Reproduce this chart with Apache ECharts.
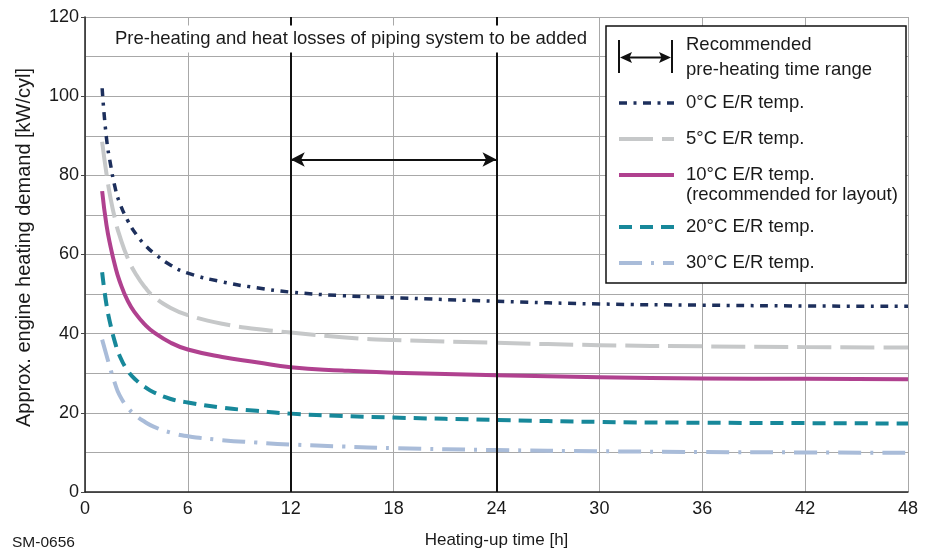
<!DOCTYPE html>
<html><head><meta charset="utf-8">
<script src="https://cdn.jsdelivr.net/npm/echarts@6/dist/echarts.min.js"></script>
<style>html,body{margin:0;padding:0;background:#fff}#chart{width:925px;height:554px}</style>
</head><body><div id="chart"></div>
<script>
// ---- data ----
const hours = [1, 1.25, 1.5, 1.75, 2, 2.5, 3, 3.5, 4, 5, 6, 8, 10, 12, 15, 18, 24, 30, 36, 42, 48];
const demand0C  = [102, 89.5, 82.5, 77, 73.3, 68.5, 65, 62.4, 60.4, 57.3, 55.3, 53.1, 51.6, 50.5, 49.6, 49.1, 48.2, 47.5, 47.2, 47.0, 46.9];
const demand5C  = [88.5, 80.5, 74, 69, 65, 59, 54.8, 51.7, 49.4, 46.5, 44.7, 42.5, 41.2, 40.3, 39.1, 38.4, 37.7, 37.1, 36.8, 36.6, 36.5];
const demand10C = [76, 67.5, 61.8, 57.2, 53.5, 48.2, 44.8, 42.3, 40.4, 37.7, 36, 34.1, 32.8, 31.5, 30.7, 30.15, 29.5, 29.0, 28.7, 28.6, 28.5];
const demand20C = [55.5, 47.4, 42, 37.8, 34.6, 30.6, 28.2, 26.5, 25.2, 23.5, 22.6, 21.3, 20.5, 19.8, 19.2, 18.8, 18.2, 17.7, 17.5, 17.4, 17.3];
const demand30C = [38.5, 34.6, 30.8, 27.4, 24.6, 21.3, 19.2, 17.7, 16.5, 15, 14.1, 13.1, 12.5, 12, 11.5, 11.1, 10.6, 10.3, 10.1, 10.0, 9.9];
const seriesNames = ['0°C E/R temp.', '5°C E/R temp.', '10°C E/R temp.', '20°C E/R temp.', '30°C E/R temp.'];
const rangeStart = 12, rangeEnd = 24, rangeArrowLevel = 84;
const xMin = 0, xMax = 48, xStep = 6;
const yMin = 0, yMax = 120, yStep = 20;

// ---- fonts ----
function hasFont(name) {
  const c = document.createElement('canvas').getContext('2d');
  const s = 'SM-0656 120 48 mmwwii';
  c.font = '20px monospace'; const a = c.measureText(s).width;
  c.font = '20px "' + name + '", monospace'; const b = c.measureText(s).width;
  return Math.abs(a - b) > 0.5;
}
const narrow = hasFont('Liberation Sans Narrow');
const tickFont = narrow ? { fontFamily: '"Liberation Sans Narrow"', fontSize: 20 } : { fontFamily: '"Liberation Sans", Arial', fontSize: 18 };
const FONT = '"Liberation Sans", Arial, sans-serif';
const INK = '#1a1a1a';

const styles = [
  { color: '#1d2f5c', width: 3.5, type: [8, 6.5, 3, 6.5] },
  { color: '#c6c8c9', width: 4, type: [34, 9] },
  { color: '#b0418f', width: 4, type: 'solid' },
  { color: '#17889a', width: 4, type: [13, 8] },
  { color: '#a9bcd9', width: 4, type: [23, 9, 3, 9] }
];
const values = [demand0C, demand5C, demand10C, demand20C, demand30C];

const series = values.map((vals, i) => ({
  name: seriesNames[i],
  type: 'line',
  data: hours.map((h, k) => [h, vals[k]]),
  showSymbol: false,
  symbol: 'none',
  smooth: 0.5,
  color: styles[i].color,
  lineStyle: { color: styles[i].color, width: styles[i].width, type: styles[i].type, cap: 'butt', join: 'round' },
  silent: true,
  animation: false,
  z: 3
}));

series[2].markLine = {
  silent: true,
  animation: false,
  symbol: 'none',
  label: { show: false },
  lineStyle: { color: '#111', width: 2, type: 'solid' },
  emphasis: { disabled: true },
  data: [
    { xAxis: rangeStart },
    { xAxis: rangeEnd },
    [
      { coord: [rangeStart, rangeArrowLevel], symbol: 'arrow', symbolSize: [11, 14] },
      { coord: [rangeEnd, rangeArrowLevel], symbol: 'arrow', symbolSize: [11, 14] }
    ]
  ]
};

const legendCommon = {
  orient: 'vertical',
  left: 617,
  itemWidth: 55,
  itemHeight: 14,
  itemGap: 16,
  padding: 0,
  selectedMode: false,
  z: 20,
  textStyle: { fontFamily: FONT, fontSize: 18.5, lineHeight: 20, color: INK, padding: [0, 0, 0, 7] },
  lineStyle: { width: 'inherit' },
  itemStyle: { color: 'rgba(0,0,0,0)', borderWidth: 0 }
};

const option = {
  animation: false,
  backgroundColor: '#fff',
  textStyle: { fontFamily: FONT },
  grid: { left: 85, right: 17, top: 17, bottom: 62, containLabel: false },
  xAxis: {
    type: 'value', min: xMin, max: xMax, interval: xStep,
    name: 'Heating-up time [h]', nameLocation: 'middle', nameGap: 40,
    nameTextStyle: { fontFamily: FONT, fontSize: 17, color: INK },
    axisLine: { show: true, onZero: false, lineStyle: { color: '#222', width: 1.5 } },
    axisTick: { show: false },
    axisLabel: { margin: 8, color: INK, fontFamily: tickFont.fontFamily, fontSize: tickFont.fontSize },
    splitLine: { show: true, lineStyle: { color: '#a8a8a8', width: 1 } }
  },
  yAxis: {
    type: 'value', min: yMin, max: yMax, interval: yStep,
    name: 'Approx. engine heating demand [kW/cyl]', nameLocation: 'middle', nameGap: 51, nameRotate: 90,
    nameTextStyle: { fontFamily: FONT, fontSize: 20, color: INK, padding: [0, 0, 0, 14] },
    axisLine: { show: true, onZero: false, lineStyle: { color: '#222', width: 1.5 } },
    axisTick: { show: true, length: 4, lineStyle: { color: '#444', width: 1 } },
    axisLabel: { margin: 6, color: INK, fontFamily: tickFont.fontFamily, fontSize: tickFont.fontSize },
    splitLine: { show: true, lineStyle: { color: '#a8a8a8', width: 1 } },
    minorTick: { show: false, splitNumber: 2 },
    minorSplitLine: { show: true, lineStyle: { color: '#a8a8a8', width: 1 } }
  },
  legend: [
    Object.assign({}, legendCommon, { top: 93, data: seriesNames.slice(0, 3) }),
    Object.assign({}, legendCommon, { top: 217, data: seriesNames.slice(3) })
  ],
  graphic: [
    { type: 'rect', z: 5, silent: true, shape: { x: 606, y: 26, width: 300, height: 257 },
      style: { fill: '#fff', stroke: '#111', lineWidth: 1.5 } },
    { type: 'line', z: 6, silent: true, shape: { x1: 619, y1: 40, x2: 619, y2: 73 }, style: { stroke: '#111', lineWidth: 2 } },
    { type: 'line', z: 6, silent: true, shape: { x1: 672, y1: 40, x2: 672, y2: 73 }, style: { stroke: '#111', lineWidth: 2 } },
    { type: 'line', z: 6, silent: true, shape: { x1: 628, y1: 57.5, x2: 663, y2: 57.5 }, style: { stroke: '#111', lineWidth: 2 } },
    { type: 'polygon', z: 6, silent: true, shape: { points: [[620, 57.5], [632, 52], [629.5, 57.5], [632, 63]] }, style: { fill: '#111' } },
    { type: 'polygon', z: 6, silent: true, shape: { points: [[671, 57.5], [659, 52], [661.5, 57.5], [659, 63]] }, style: { fill: '#111' } },
    { type: 'text', z: 6, silent: true, x: 686, y: 45,
      style: { text: 'Recommended', fontFamily: FONT, fontSize: 18.5, fill: INK, verticalAlign: 'middle' } },
    { type: 'text', z: 6, silent: true, x: 686, y: 70,
      style: { text: 'pre-heating time range', fontFamily: FONT, fontSize: 18.5, fill: INK, verticalAlign: 'middle' } },
    { type: 'text', z: 21, silent: true, x: 686, y: 195,
      style: { text: '(recommended for layout)', fontFamily: FONT, fontSize: 18.5, fill: INK, verticalAlign: 'middle' } },
    { type: 'text', z: 21, silent: true, x: 351, y: 39,
      style: { text: 'Pre-heating and heat losses of piping system to be added', fontFamily: FONT, fontSize: 18.5, fill: INK,
        align: 'center', verticalAlign: 'middle', backgroundColor: '#fff', padding: [4, 3] } },
    { type: 'text', z: 21, silent: true, x: 12, y: 543,
      style: { text: 'SM-0656', fontFamily: tickFont.fontFamily, fontSize: narrow ? 19 : 15.5, fill: INK, verticalAlign: 'middle' } }
  ],
  series: series
};

const chart = echarts.init(document.getElementById('chart'), null, { renderer: 'canvas' });
chart.setOption(option);
</script>
</body></html>
